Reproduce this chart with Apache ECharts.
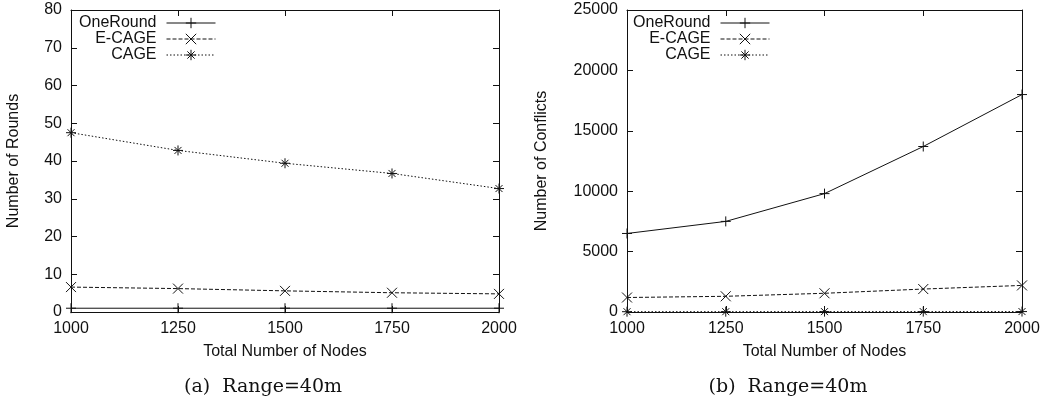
<!DOCTYPE html>
<html>
<head>
<meta charset="utf-8">
<script src="https://cdn.jsdelivr.net/npm/echarts@6/dist/echarts.min.js"></script>
<style>
  html, body { margin: 0; padding: 0; background: #fff; }
  #main { width: 1048px; height: 403px; }
</style>
</head>
<body>
<div id="main"></div>
<script>
var nodes = ['1000', '1250', '1500', '1750', '2000'];

// (a) Number of Rounds
var roundsOneRound = [1, 1, 1, 1, 1];
var roundsECage = [6.6, 6.2, 5.6, 5.1, 4.8];
var roundsCage = [47.5, 42.8, 39.4, 36.7, 32.7];

// (b) Number of Conflicts
var conflictsOneRound = [6500, 7500, 9800, 13700, 18000];
var conflictsECage = [1200, 1300, 1550, 1900, 2200];
var conflictsCage = [25, 25, 30, 30, 35];

var symPlus = 'path://M0,5L10,5M5,0L5,10';
var symCross = 'path://M0,0L10,10M0,10L10,0';
var symStar = 'path://M0,5L10,5M5,0L5,10M1.5,1.5L8.5,8.5M1.5,8.5L8.5,1.5';

var font = 'Liberation Sans';
var ink = '#111';

function xAx(grid, top) {
    return {
        type: 'category',
        gridIndex: grid,
        position: top ? 'top' : 'bottom',
        data: nodes,
        boundaryGap: false,
        name: top ? '' : 'Total Number of Nodes',
        nameLocation: 'middle',
        nameGap: 32,
        nameTextStyle: { color: ink, fontFamily: font, fontSize: 16 },
        axisLine: { show: true, onZero: false, lineStyle: { color: ink, width: 1 } },
        axisTick: { show: true, inside: true, length: 6, lineStyle: { color: ink } },
        axisLabel: { show: !top, color: ink, fontFamily: font, fontSize: 16, margin: 9 },
        splitLine: { show: false }
    };
}

function yAx(grid, right, max, interval, name, gap) {
    return {
        type: 'value',
        gridIndex: grid,
        position: right ? 'right' : 'left',
        min: 0,
        max: max,
        interval: interval,
        name: right ? '' : name,
        nameLocation: 'middle',
        nameGap: gap,
        nameTextStyle: { color: ink, fontFamily: font, fontSize: 16 },
        axisLine: { show: true, onZero: false, lineStyle: { color: ink, width: 1 } },
        axisTick: { show: true, inside: true, length: 6, lineStyle: { color: ink } },
        axisLabel: {
            show: !right, color: ink, fontFamily: font, fontSize: 16, margin: 9,
            formatter: function (v) { return String(v); }
        },
        splitLine: { show: false }
    };
}

function line(name, grid, data, sym, dash) {
    return {
        name: name,
        type: 'line',
        xAxisIndex: grid * 2,
        yAxisIndex: grid * 2,
        data: data,
        symbol: sym,
        symbolSize: 10,
        showAllSymbol: true,
        lineStyle: { color: ink, width: 1, type: dash },
        itemStyle: { color: ink, borderColor: ink, borderWidth: 1 }
    };
}

function legendAt(right) {
    return {
        orient: 'vertical',
        align: 'right',
        right: right,
        top: 15,
        padding: 0,
        itemGap: 0,
        itemWidth: 49,
        itemHeight: 13,
        lineStyle: { width: 1 },
        itemStyle: { borderWidth: 1 },
        textStyle: { color: ink, fontFamily: font, fontSize: 16, lineHeight: 16, padding: [0, 5, 0, 0] },
        data: ['OneRound', 'E-CAGE', 'CAGE']
    };
}

var myChart = echarts.init(document.getElementById('main'));
var option = {
    animation: false,
    grid: [
        { left: 71, right: 549, top: 10, bottom: 91 },
        { left: 627, right: 26, top: 10, bottom: 91 }
    ],
    legend: [legendAt(832), legendAt(278)],
    xAxis: [xAx(0, false), xAx(0, true), xAx(1, false), xAx(1, true)],
    yAxis: [
        yAx(0, false, 80, 10, 'Number of Rounds', 49),
        yAx(0, true, 80, 10, '', 0),
        yAx(1, false, 25000, 5000, 'Number of Conflicts', 77),
        yAx(1, true, 25000, 5000, '', 0)
    ],
    series: [
        line('OneRound', 0, roundsOneRound, symPlus, 'solid'),
        line('E-CAGE', 0, roundsECage, symCross, [4, 2]),
        line('CAGE', 0, roundsCage, symStar, [1.5, 2]),
        line('OneRound', 1, conflictsOneRound, symPlus, 'solid'),
        line('E-CAGE', 1, conflictsECage, symCross, [4, 2]),
        line('CAGE', 1, conflictsCage, symStar, [1.5, 2])
    ],
    graphic: [
        { type: 'text', x: 263, y: 387, style: { text: '(a)  Range=40m', font: '19px "DejaVu Serif"', fill: ink, align: 'center', verticalAlign: 'middle' } },
        { type: 'text', x: 788, y: 387, style: { text: '(b)  Range=40m', font: '19px "DejaVu Serif"', fill: ink, align: 'center', verticalAlign: 'middle' } }
    ]
};
myChart.setOption(option);
window.addEventListener('resize', function () {
    myChart.resize();
});
</script>
</body>
</html>
